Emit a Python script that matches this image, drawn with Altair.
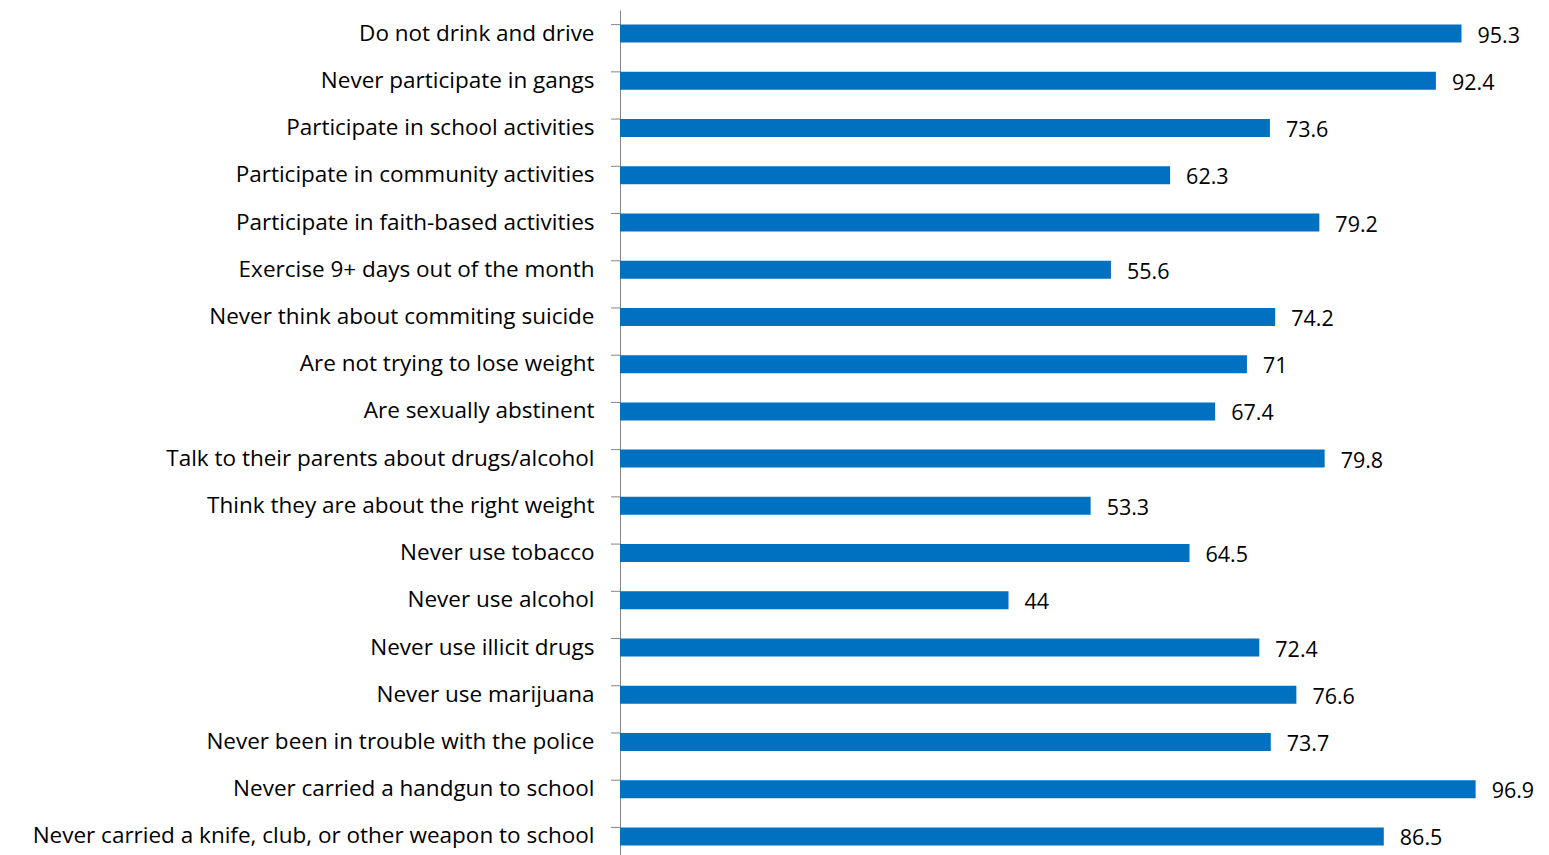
import altair as alt
import pandas as pd

categories = [
    "Do not drink and drive",
    "Never participate in gangs",
    "Participate in school activities",
    "Participate in community activities",
    "Participate in faith-based activities",
    "Exercise 9+ days out of the month",
    "Never think about commiting suicide",
    "Are not trying to lose weight",
    "Are sexually abstinent",
    "Talk to their parents about drugs/alcohol",
    "Think they are about the right weight",
    "Never use tobacco",
    "Never use alcohol",
    "Never use illicit drugs",
    "Never use marijuana",
    "Never been in trouble with the police",
    "Never carried a handgun to school",
    "Never carried a knife, club, or other weapon to school",
]
values = [95.3, 92.4, 73.6, 62.3, 79.2, 55.6, 74.2, 71, 67.4, 79.8, 53.3,
          64.5, 44, 72.4, 76.6, 73.7, 96.9, 86.5]
value_labels = ["95.3", "92.4", "73.6", "62.3", "79.2", "55.6", "74.2", "71",
                "67.4", "79.8", "53.3", "64.5", "44", "72.4", "76.6", "73.7",
                "96.9", "86.5"]

df = pd.DataFrame({"cat": categories, "val": values, "lab": value_labels})

FONT = "Open Sans"
FS = 22.5

y_enc = alt.Y("cat:N", sort=categories, title=None,
              scale=alt.Scale(paddingInner=0.62, paddingOuter=0.31),
              axis=alt.Axis(ticks=False, labelPadding=26, labelFont=FONT,
                            labelFontSize=FS, labelColor="#000000",
                            labelLimit=700, domainColor="#868686",
                            domainWidth=1))
x_enc = alt.X("val:Q", scale=alt.Scale(domain=[0, 100]), axis=None)

bars = alt.Chart(df).mark_bar(size=18, color="#0070C0").encode(y=y_enc, x=x_enc)

texts = alt.Chart(df).mark_text(align="left", baseline="middle", dx=16, dy=3,
                                font=FONT, fontSize=21.5, color="#000000").encode(
    y=alt.Y("cat:N", sort=categories), x="val:Q", text="lab:N")

ticks = alt.Chart(df).mark_rule(color="#868686", strokeWidth=1).encode(
    y=alt.Y("cat:N", sort=categories, bandPosition=0),
    x=alt.value(-9), x2=alt.value(0))

chart = alt.layer(bars, texts, ticks).properties(
    width=883, height=850,
    padding={"left": 612, "top": 2, "right": 38, "bottom": 0},
    autosize=alt.AutoSizeParams(type="none"),
).configure_view(stroke=None)

chart.save("out.html", embed_options={"renderer": "svg", "actions": False})
